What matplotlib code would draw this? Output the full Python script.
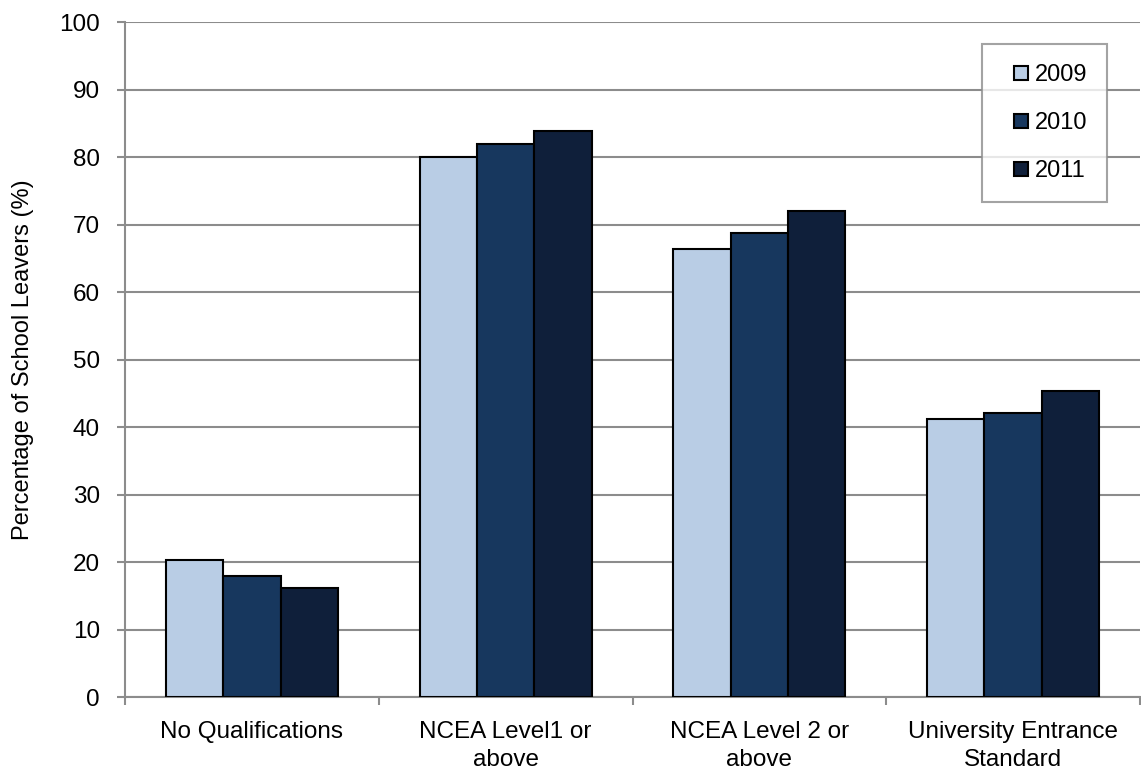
import numpy as np
import matplotlib.pyplot as plt
from matplotlib.lines import Line2D

plt.rcParams['font.family'] = ['Liberation Sans', 'DejaVu Sans']

# data
categories = ['No Qualifications', 'NCEA Level1 or\nabove', 'NCEA Level 2 or\nabove',
              'University Entrance\nStandard']
years = ['2009', '2010', '2011']
vals_2009 = [20.3, 80.0, 66.3, 41.2]
vals_2010 = [17.9, 82.0, 68.8, 42.1]
vals_2011 = [16.2, 83.8, 72.0, 45.3]
colors = ['#B9CDE5', '#17375E', '#0F1F3A']

fig = plt.figure(figsize=(11.41, 7.73), dpi=100)
ax = fig.add_axes([0.1096, 0.0983, 0.8895, 0.8732])

x = np.arange(len(categories))
w = 0.226
for i, (vals, c, lab) in enumerate(zip([vals_2009, vals_2010, vals_2011], colors, years)):
    ax.bar(x + (i - 1) * w, vals, w, color=c, edgecolor='black', linewidth=1.5,
           label=lab, zorder=3)

ax.set_xlim(-0.5, len(categories) - 0.5)
ax.set_ylim(0, 100)
ax.set_yticks(range(0, 101, 10))
ax.yaxis.grid(True, color='#8c8c8c', linewidth=1.5, zorder=0)
ax.set_xticks(x)
ax.set_xticklabels(categories, fontsize=17.5, linespacing=1.35)
ax.set_xticks(np.arange(-0.5, len(categories), 1), minor=True)
ax.tick_params(axis='x', which='major', length=0, pad=17)
ax.tick_params(axis='x', which='minor', length=6, color='#8c8c8c', width=1.5)
ax.tick_params(axis='y', length=6, color='#8c8c8c', width=1.5, labelsize=17.5, pad=12)

for s in ['top', 'right']:
    ax.spines[s].set_visible(False)
for s in ['left', 'bottom']:
    ax.spines[s].set_color('#8c8c8c')
    ax.spines[s].set_linewidth(1.5)

ax.set_ylabel('Percentage of School Leavers (%)', fontsize=17, labelpad=18)

handles = [Line2D([], [], linestyle='none', marker='s', markersize=9.5,
                  markerfacecolor=c, markeredgecolor='black', markeredgewidth=1.5)
           for c in colors]
leg = ax.legend(handles, years, loc='upper right', bbox_to_anchor=(0.968, 0.967),
                fontsize=17, frameon=True, fancybox=False, edgecolor='#8c8c8c',
                handlelength=1.6, handletextpad=-0.2,
                labelspacing=1.1, borderpad=0.85, borderaxespad=0)
leg.get_frame().set_linewidth(1.5)

fig.savefig('out.png', dpi=100)
